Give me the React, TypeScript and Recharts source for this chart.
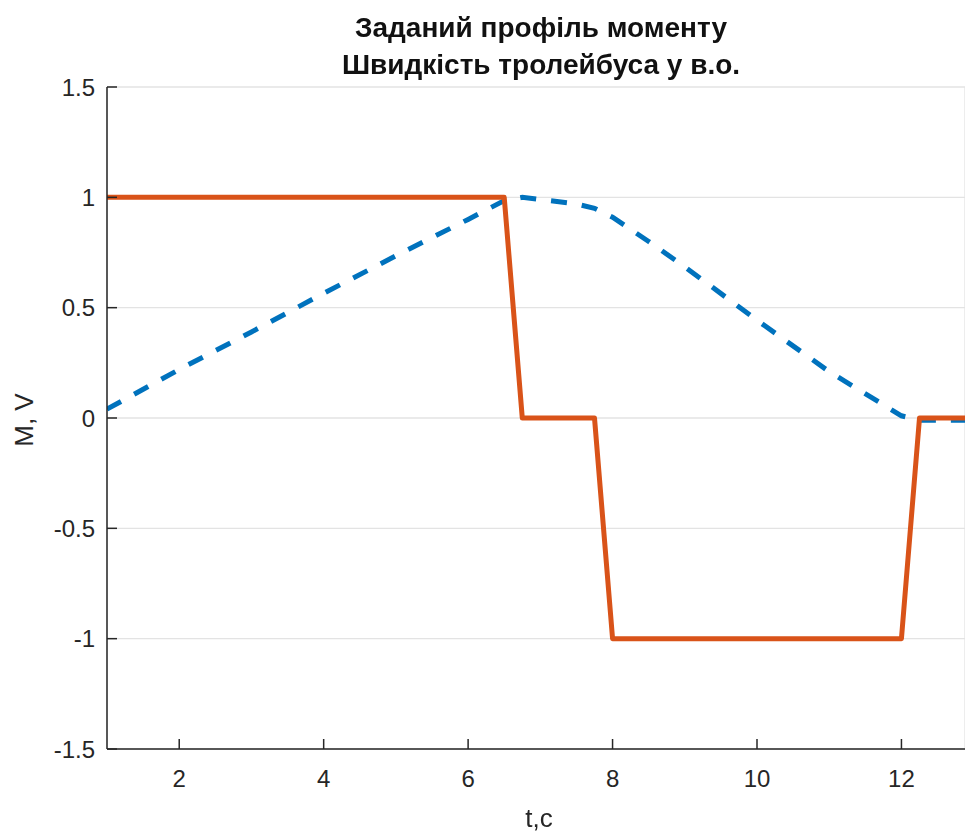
import React from "react";
import { LineChart, Line, XAxis, YAxis, CartesianGrid } from "recharts";

// torque profile (solid orange)
const torqueT = [1, 6.5, 6.75, 7.75, 8, 12, 12.25, 12.88];
const torqueM = [1, 1, 0, 0, -1, -1, 0, 0];

// trolleybus speed, p.u. (dashed blue)
const speedT = [1, 2, 3, 4, 5, 6, 6.5, 6.75, 7, 7.5, 7.75, 8, 8.5, 9, 10, 11, 12, 12.25, 12.88];
const speedV = [0.04, 0.22, 0.39, 0.565, 0.735, 0.9, 0.985, 1.0, 0.99, 0.97, 0.95, 0.91, 0.8, 0.685, 0.443, 0.21, 0.01, -0.01, -0.01];

const xTicks = [2, 4, 6, 8, 10, 12];
const yTicks = [-1.5, -1, -0.5, 0, 0.5, 1, 1.5];

const titleLines = ["Заданий профіль моменту", "Швидкість тролейбуса у в.о."];

const torque = torqueT.map((t, i) => ({ t, m: torqueM[i] }));
const speed = speedT.map((t, i) => ({ t, v: speedV[i] }));

const FONT = "'Liberation Sans', Arial, sans-serif";
const INK = "#262626";

export default function App() {
  const tickStyle = { fill: INK, fontSize: 24, fontFamily: FONT };
  return (
    <div style={{ position: "fixed", left: 0, top: 0, width: 965, height: 832, fontFamily: FONT, color: INK, background: "#fff" }}>
      <LineChart width={965} height={832} margin={{ top: 87, right: 0, left: 0, bottom: 0 }}>
        <CartesianGrid stroke="#e3e3e3" strokeWidth={1.3} />
        <XAxis
          xAxisId="b"
          type="number"
          dataKey="t"
          domain={[1, 12.88]}
          ticks={xTicks}
          height={83}
          tickSize={-10}
          tickMargin={31}
          tick={tickStyle}
          stroke={INK}
          strokeWidth={1.5}
          allowDataOverflow
        />
        <XAxis
          xAxisId="top"
          orientation="top"
          type="number"
          dataKey="t"
          domain={[1, 12.88]}
          ticks={xTicks}
          height={0}
          tickSize={-10}
          tickFormatter={() => ""}
          stroke="#4d4d4d"
          strokeWidth={1.5}
          allowDataOverflow
        />
        <YAxis
          type="number"
          domain={[-1.5, 1.5]}
          ticks={yTicks}
          width={107}
          tickSize={-10}
          tickMargin={22}
          tick={tickStyle}
          stroke={INK}
          strokeWidth={1.5}
          allowDataOverflow
        />
        <Line
          xAxisId="b"
          data={speed}
          dataKey="v"
          type="linear"
          stroke="#0072BD"
          strokeWidth={5}
          strokeDasharray="16 15"
          dot={false}
          isAnimationActive={false}
        />
        <Line
          xAxisId="b"
          data={torque}
          dataKey="m"
          type="linear"
          stroke="#D95319"
          strokeWidth={5}
          strokeLinejoin="round"
          dot={false}
          isAnimationActive={false}
        />
      </LineChart>
      {titleLines.map((s, i) => (
        <div
          key={i}
          style={{
            position: "absolute",
            left: 107,
            width: 868,
            top: 14 + i * 37,
            textAlign: "center",
            fontWeight: "bold",
            fontSize: 28,
            lineHeight: "28px",
            whiteSpace: "nowrap",
            color: "#111",
          }}
        >
          {s}
        </div>
      ))}
      <div style={{ position: "absolute", left: 439, width: 200, top: 805, textAlign: "center", fontSize: 26, lineHeight: "26px" }}>t,c</div>
      <div
        style={{
          position: "absolute",
          left: 24 - 50,
          width: 100,
          top: 420 - 13,
          textAlign: "center",
          fontSize: 26,
          lineHeight: "26px",
          transform: "rotate(-90deg)",
        }}
      >
        M, V
      </div>
    </div>
  );
}
